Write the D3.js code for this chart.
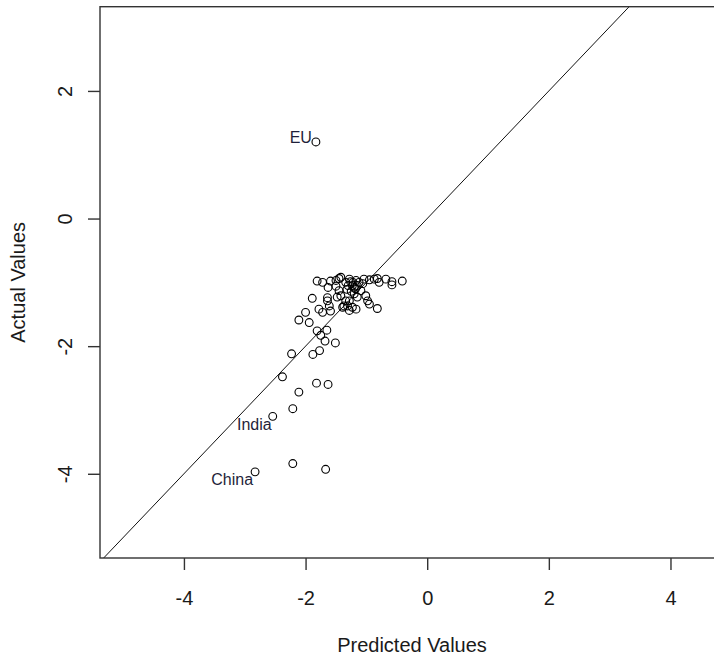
<!DOCTYPE html>
<html>
<head>
	<meta charset="utf-8">
	<title></title>
	<script src="https://d3js.org/d3.v7.min.js"></script>
	<style>
		body { margin: 0; background: #fff; }
		text { font-family: "Liberation Sans", Arial, sans-serif; fill: #1a1a1a; }
	</style>
</head>
<body>
	<div id="my_dataviz"></div>
	<script>
	// data (first three points carry labels)
	var predicted = [-1.83, -2.54, -2.83,
	  -2.21, -1.67, -2.21, -2.11, -1.82, -1.63, -2.38, -2.23, -1.88, -1.77, -1.68, -1.51,
	  -1.81, -1.75, -1.65, -2.11, -2.00, -1.94, -1.89, -1.78, -1.72, -1.59,
	  -1.81, -1.72, -1.59, -1.63, -1.50, -1.64, -1.64, -1.61, -1.42, -1.34, -1.37, -1.31,
	  -1.17, -0.82, -1.01, -0.98, -0.95, -1.45, -0.95, -0.82, -0.68, -0.58, -0.58, -0.41,
	  -1.50, -1.42, -1.34, -1.28, -1.23, -1.17, -1.45, -1.28, -1.20, -1.15, -1.48, -1.39,
	  -1.28, -1.23, -1.04, -0.87, -0.79, -1.09, -1.20, -1.15, -1.32, -1.25, -1.06, -1.12,
	  -1.30, -1.22, -1.18, -1.26];
	var actual = [1.20, -3.10, -3.97,
	  -3.84, -3.93, -2.98, -2.72, -2.58, -2.60, -2.48, -2.12, -2.13, -2.07, -1.92, -1.95,
	  -1.76, -1.83, -1.75, -1.59, -1.47, -1.63, -1.25, -1.42, -1.47, -1.45,
	  -0.98, -1.00, -0.98, -1.08, -1.06, -1.24, -1.29, -1.37, -1.21, -1.29, -1.37, -1.37,
	  -1.42, -1.41, -1.21, -1.29, -1.34, -0.94, -0.96, -0.94, -0.95, -0.99, -1.04, -0.98,
	  -0.97, -0.92, -1.00, -0.95, -1.05, -0.97, -1.13, -1.29, -1.18, -1.23, -1.23, -1.39,
	  -1.44, -1.39, -0.95, -0.95, -1.00, -1.13, -1.08, -1.05, -1.11, -1.14, -1.02, -1.00,
	  -1.05, -1.00, -1.10, -0.99];
	var pointLabels = ["EU", "India", "China"];
	var xTicks = [-4, -2, 0, 2, 4];
	var yTicks = [2, 0, -2, -4];

	var width = 714, height = 657;
	// plot region (right edge falls outside the picture)
	var box = {left: 100, right: 724, top: 6.7, bottom: 558};

	var svg = d3.select("#my_dataviz")
	  .append("svg")
	    .attr("width", width)
	    .attr("height", height)

	var x = d3.scaleLinear().domain([-5.38, 4.88]).range([box.left, box.right])
	var y = d3.scaleLinear().domain([-5.32, 3.32]).range([box.bottom, box.top])

	// plain hyphen for negatives, like R
	var fmt = function (d) { return String(d); }

	svg.append("clipPath").attr("id", "clip")
	  .append("rect")
	    .attr("x", box.left).attr("y", box.top)
	    .attr("width", box.right - box.left).attr("height", box.bottom - box.top)

	// y = x reference line
	svg.append("line")
	  .attr("clip-path", "url(#clip)")
	  .attr("x1", x(-6)).attr("y1", y(-6))
	  .attr("x2", x(6)).attr("y2", y(6))
	  .attr("stroke", "#111")
	  .attr("stroke-width", 1)

	// points
	svg.append("g")
	  .selectAll("circle")
	  .data(predicted)
	  .enter()
	  .append("circle")
	    .attr("cx", function (d) { return x(d); })
	    .attr("cy", function (d, i) { return y(actual[i]); })
	    .attr("r", 3.9)
	    .attr("fill", "none")
	    .attr("stroke", "#000")
	    .attr("stroke-width", 1.1)

	// point labels, placed left of their points
	var labelOffset = [[-4, -4.5], [-1, 8], [-2, 8]];
	pointLabels.forEach(function (lab, i) {
	  svg.append("text")
	    .attr("x", x(predicted[i]) + labelOffset[i][0])
	    .attr("y", y(actual[i]) + labelOffset[i][1])
	    .attr("text-anchor", "end")
	    .attr("dominant-baseline", "central")
	    .style("font-size", "16px")
	    .style("fill", "#1f1f3a")
	    .text(lab)
	})

	// box
	svg.append("rect")
	  .attr("x", box.left).attr("y", box.top)
	  .attr("width", box.right - box.left).attr("height", box.bottom - box.top)
	  .attr("fill", "none")
	  .attr("stroke", "#333")
	  .attr("stroke-width", 1.4)

	// X axis
	var xa = svg.append("g")
	  .attr("transform", "translate(0," + box.bottom + ")")
	  .call(d3.axisBottom(x).tickValues(xTicks).tickSize(12).tickFormat(fmt))
	xa.select(".domain").remove()
	xa.selectAll(".tick line").attr("stroke", "#333").attr("stroke-width", 1.4)
	xa.selectAll(".tick text")
	  .attr("y", 47).attr("dy", null)
	  .style("font-size", "20px").style("font-family", null)

	// Y axis, labels parallel to the axis
	var ya = svg.append("g")
	  .attr("transform", "translate(" + box.left + ",0)")
	  .call(d3.axisLeft(y).tickValues(yTicks).tickSize(12).tickFormat(fmt))
	ya.select(".domain").remove()
	ya.selectAll(".tick line").attr("stroke", "#333").attr("stroke-width", 1.4)
	ya.selectAll(".tick text")
	  .attr("x", null).attr("dy", null)
	  .attr("text-anchor", "middle")
	  .attr("transform", "translate(-28.5,0) rotate(-90)")
	  .style("font-size", "20px").style("font-family", null)

	// axis titles
	svg.append("text")
	  .attr("text-anchor", "middle")
	  .attr("x", (box.left + box.right) / 2)
	  .attr("y", 652)
	  .style("font-size", "20px")
	  .text("Predicted Values")

	svg.append("text")
	  .attr("text-anchor", "middle")
	  .attr("transform", "translate(24.5," + (box.top + box.bottom) / 2 + ") rotate(-90)")
	  .style("font-size", "20px")
	  .text("Actual Values")
	</script>
</body>
</html>
